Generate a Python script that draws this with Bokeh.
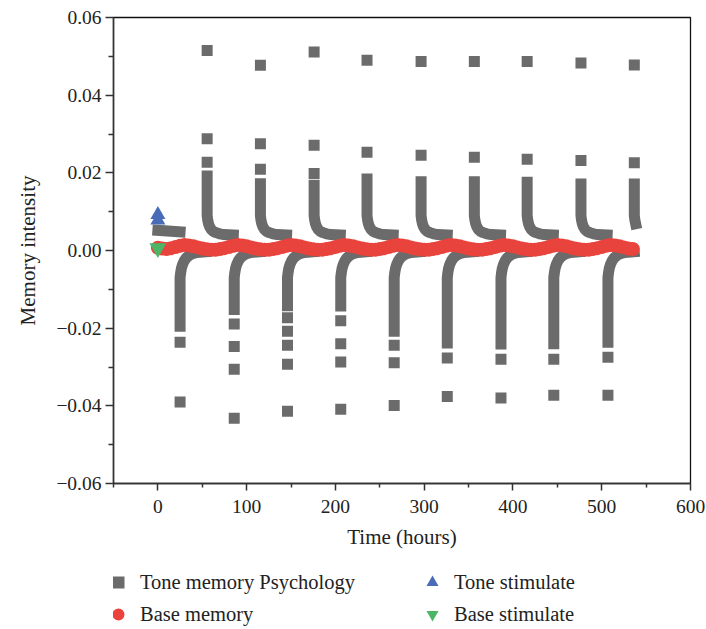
from bokeh.plotting import figure
from bokeh.layouts import column
from bokeh.models import (Legend, LegendItem, FixedTicker, CustomJSTickFormatter, Range1d)
from bokeh.embed import file_html
from bokeh.resources import INLINE

# ---------------- data ----------------
# Tone memory Psychology: positive pulses
pos_times = [55.5, 115.5, 176.0, 235.6, 296.5, 356.5, 416.0, 476.6, 536.7]
pos_peaks = [0.0515, 0.0477, 0.0511, 0.0490, 0.0487, 0.0487, 0.0487, 0.0483, 0.0478]
pos_second = [0.0288, 0.0275, 0.0271, 0.0253, 0.0245, 0.0240, 0.0235, 0.0232, 0.0226]
pos_third = [0.0227, 0.0209, 0.0198]
pos_curve_top = [0.0192, 0.0172, 0.0168, 0.0184, 0.0177, 0.0177, 0.0176, 0.0171, 0.0171]
# decay after a positive pulse: hours after the pulse, value
pos_decay_hours = [0.0, 0.6, 1.5, 2.8, 4.6, 7.0, 10.0, 14.0, 19.0, 29.5]
pos_decay_values = [0.0090, 0.0079, 0.0069, 0.0061, 0.0054, 0.0049, 0.0046, 0.0043, 0.0041, 0.0040]

# Tone memory Psychology: negative pulses
neg_times = [25.0, 86.0, 146.0, 206.0, 266.2, 326.0, 386.5, 446.0, 507.0]
neg_squares = [
    [-0.0390, -0.0236],
    [-0.0432, -0.0306, -0.0247, -0.0189],
    [-0.0414, -0.0293, -0.0244, -0.0208, -0.0173],
    [-0.0409, -0.0287, -0.0240, -0.0181],
    [-0.0399, -0.0289, -0.0244],
    [-0.0376, -0.0277],
    [-0.0380, -0.0280],
    [-0.0373, -0.0280],
    [-0.0373, -0.0275],
]
neg_curve_bottom = [-0.0195, -0.0152, -0.0142, -0.0143, -0.0208, -0.0238, -0.0241, -0.0240, -0.0236]
neg_decay_hours = [0.0, 0.6, 1.5, 2.8, 4.6, 7.0, 10.0, 14.0, 19.0, 29.5]
neg_decay_values = [-0.0070, -0.0058, -0.0046, -0.0036, -0.0027, -0.0019, -0.0013, -0.0008, -0.0005, -0.0003]

# Tone memory at the start
start_times = [0.0, 25.0]
start_values = [0.0052, 0.0048]

# Base memory
base_times = list(range(0, 540, 5))
base_values = [
    0.0007, 0.0005, 0.0004, 0.0006, 0.0009, 0.0012, 0.0014, 0.0013, 0.0011, 0.0008, 0.0005, 0.0003,
    0.0002, 0.0002, 0.0004, 0.0006, 0.0009, 0.0012, 0.0014, 0.0013, 0.0011, 0.0008, 0.0005, 0.0003,
    0.0002, 0.0002, 0.0004, 0.0006, 0.0009, 0.0012, 0.0014, 0.0013, 0.0011, 0.0008, 0.0005, 0.0003,
    0.0002, 0.0002, 0.0004, 0.0006, 0.0009, 0.0012, 0.0014, 0.0013, 0.0011, 0.0008, 0.0005, 0.0003,
    0.0002, 0.0002, 0.0004, 0.0006, 0.0009, 0.0012, 0.0014, 0.0013, 0.0011, 0.0008, 0.0005, 0.0003,
    0.0002, 0.0002, 0.0004, 0.0006, 0.0009, 0.0012, 0.0014, 0.0013, 0.0011, 0.0008, 0.0005, 0.0003,
    0.0002, 0.0002, 0.0004, 0.0006, 0.0009, 0.0012, 0.0014, 0.0013, 0.0011, 0.0008, 0.0005, 0.0003,
    0.0002, 0.0002, 0.0004, 0.0006, 0.0009, 0.0012, 0.0014, 0.0013, 0.0011, 0.0008, 0.0005, 0.0003,
    0.0002, 0.0002, 0.0004, 0.0006, 0.0009, 0.0012, 0.0014, 0.0013, 0.0011, 0.0008, 0.0005, 0.0004,
]

# Stimuli
tone_stim_times = [0.0, 0.0]
tone_stim_values = [0.0092, 0.0078]
base_stim_times = [0.0]
base_stim_values = [0.0006]

x_ticks = [0, 100, 200, 300, 400, 500, 600]
x_minor = [-50, 50, 150, 250, 350, 450, 550]
y_ticks = [-0.06, -0.04, -0.02, 0.0, 0.02, 0.04, 0.06]
y_minor = [-0.05, -0.03, -0.01, 0.01, 0.03, 0.05]

legend_labels = ["Tone memory Psychology", "Tone stimulate", "Base memory", "Base stimulate"]

# ---------------- build point sets ----------------
sq_t, sq_v = [], []
for t, a, b in zip(pos_times, pos_peaks, pos_second):
    sq_t += [t, t]
    sq_v += [a, b]
for t, c in zip(pos_times, pos_third):
    sq_t.append(t)
    sq_v.append(c)
for t, vals in zip(neg_times, neg_squares):
    sq_t += [t] * len(vals)
    sq_v += vals

xs, ys = [list(start_times)], [list(start_values)]
last = len(pos_times) - 1
for i, (t, top) in enumerate(zip(pos_times, pos_curve_top)):
    n = len(pos_decay_hours) if i < last else 3
    xs.append([t] + [t + h for h in pos_decay_hours[:n]])
    ys.append([top] + pos_decay_values[:n])
for t, bot in zip(neg_times, neg_curve_bottom):
    xs.append([t] + [t + h for h in neg_decay_hours])
    ys.append([bot] + neg_decay_values)

GRAY = "#6b6b6b"
RED = "#e8433c"
BLUE = "#4a6bb8"
GREEN = "#4cb566"
FONT = "Liberation Serif"


def draw_series(fig):
    fig.multi_line(xs, ys, line_color=GRAY, line_width=11, line_cap="square", line_join="round")
    r_sq = fig.scatter(sq_t, sq_v, marker="square", size=11, fill_color=GRAY, line_color=None)
    r_red = fig.scatter(base_times, base_values, marker="circle", size=14, fill_color=RED, line_color=None)
    r_blue = fig.scatter(tone_stim_times, tone_stim_values, marker="triangle", size=15,
                         fill_color=BLUE, line_color=None)
    r_green = fig.scatter(base_stim_times, base_stim_values, marker="inverted_triangle", size=17,
                          fill_color=GREEN, line_color=None)
    return r_sq, r_blue, r_red, r_green


p = figure(width=706, height=560, output_backend="svg", toolbar_location=None,
           x_range=Range1d(-50, 600), y_range=Range1d(-0.06, 0.06),
           min_border_left=113, min_border_right=16, min_border_top=17,
           min_border_bottom=77)
p.grid.visible = False
p.outline_line_color = "#111111"
p.outline_line_width = 1.3
p.background_fill_color = "white"
p.border_fill_color = "white"
draw_series(p)

# axes
for ax in (p.xaxis[0], p.yaxis[0]):
    ax.axis_line_color = "#333333"
    ax.axis_line_width = 1.5
    ax.major_tick_line_color = "#333333"
    ax.minor_tick_line_color = "#333333"
    ax.major_tick_line_width = 1.5
    ax.minor_tick_line_width = 1.5
    ax.major_tick_in = 0
    ax.minor_tick_in = 0
    ax.major_label_text_font = FONT
    ax.major_label_text_font_size = "19.5px"
    ax.major_label_text_color = "#222222"
    ax.axis_label_text_font = FONT
    ax.axis_label_text_font_size = "21px"
    ax.axis_label_text_font_style = "normal"
    ax.axis_label_text_color = "#222222"

p.xaxis.ticker = FixedTicker(ticks=x_ticks, minor_ticks=x_minor)
p.yaxis.ticker = FixedTicker(ticks=y_ticks, minor_ticks=y_minor)
p.xaxis.major_tick_out = 7
p.xaxis.minor_tick_out = 4
p.yaxis.major_tick_out = 8
p.yaxis.minor_tick_out = 5
p.xaxis.major_label_standoff = 9
p.yaxis.major_label_standoff = 4
p.xaxis.axis_label = "Time (hours)"
p.yaxis.axis_label = "Memory intensity"
p.xaxis.axis_label_standoff = 9
p.yaxis.axis_label_standoff = 13
p.yaxis.formatter = CustomJSTickFormatter(code="""
const v = Math.abs(tick) < 1e-12 ? 0 : tick;
return (v < 0 ? '\\u2212' : '') + Math.abs(v).toFixed(2);
""")

# ---------------- legend strip below the chart ----------------
# same series drawn in a strip whose ranges show none of them; only the legend is visible
q = figure(width=706, height=69, output_backend="svg", toolbar_location=None,
           x_axis_type=None, y_axis_type=None, min_border=0,
           x_range=Range1d(5000, 5001), y_range=Range1d(5000, 5001))
q.outline_line_color = None
q.grid.visible = False
k_sq, k_blue, k_red, k_green = draw_series(q)

legend = Legend(items=[
    LegendItem(label=legend_labels[0], renderers=[k_sq]),
    LegendItem(label=legend_labels[1], renderers=[k_blue]),
    LegendItem(label=legend_labels[2], renderers=[k_red]),
    LegendItem(label=legend_labels[3], renderers=[k_green]),
], orientation="horizontal", ncols=2, location=(-10, 0),
    glyph_width=30, glyph_height=30, label_standoff=7, label_width=275,
    label_height=30, spacing=2, padding=0, margin=0,
    border_line_alpha=0, background_fill_alpha=0,
    label_text_font=FONT, label_text_font_size="20.5px", label_text_color="#222222")
q.add_layout(legend, "center")

layout = column(p, q, spacing=0)
open("out.html", "w").write(file_html(layout, INLINE))
